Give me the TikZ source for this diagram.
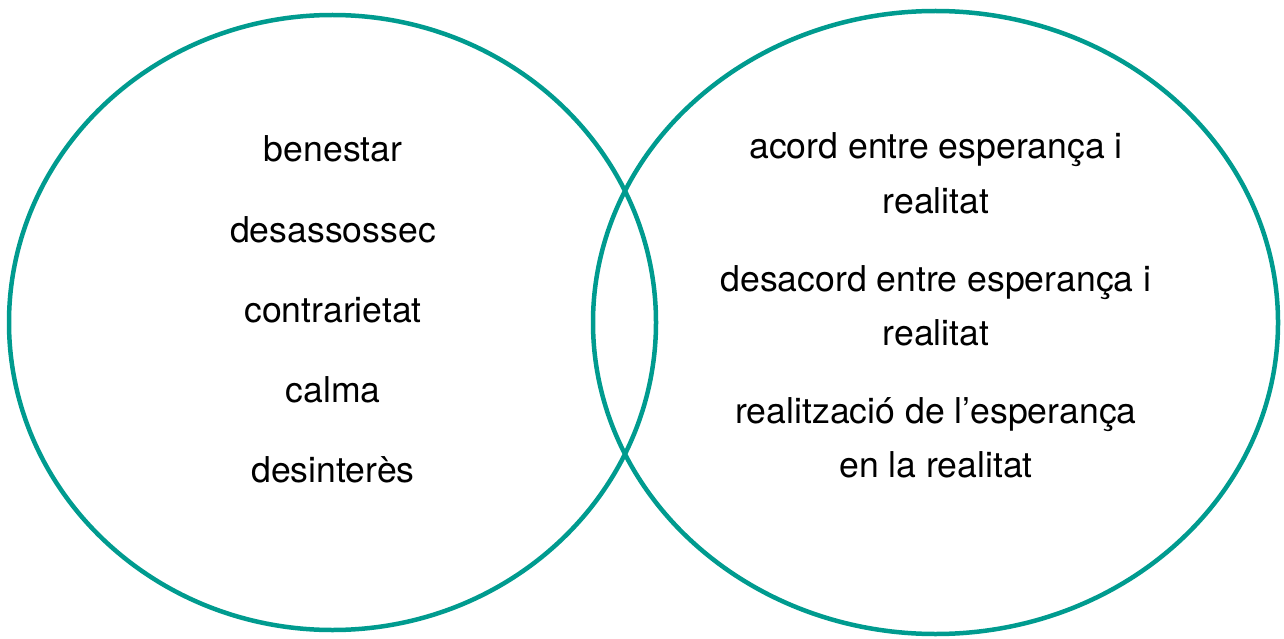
\documentclass[tikz,border=0pt]{standalone}
\usepackage{fontspec}
\setmainfont{TeX Gyre Heros}
\definecolor{teal1}{HTML}{009B8F}
\begin{document}
\begin{tikzpicture}[x=1pt,y=-1pt,
  ring/.style={draw=teal1,line width=4.5pt},
  word/.style={anchor=base,inner sep=0pt,font=\fontsize{35.6}{42}\selectfont}]
\useasboundingbox (0,0) rectangle (1284,639);
\draw[ring] (332.5,322.5) ellipse [x radius=323.5,y radius=307.5];
\draw[ring] (935.5,322.5) ellipse [x radius=342.5,y radius=311.5];
% left column
\node[word] (l1) at (333,162) {benestar};
\node[word] (l2) at (333,242) {desassossec};
\node[word] (l3) at (333,322) {contrarietat};
\node[word] (l4) at (333,402) {calma};
\node[word] (l5) at (333,482) {desinterès};
% right column
\node[word] (r1a) at (936,159) {acord entre esperança i};
\node[word] (r1b) at (936,213) {realitat};
\node[word] (r2a) at (936,291) {desacord entre esperança i};
\node[word] (r2b) at (936,345) {realitat};
\node[word] (r3a) at (936,423) {realització de l’esperança};
\node[word] (r3b) at (936,477) {en la realitat};
\end{tikzpicture}
\end{document}
